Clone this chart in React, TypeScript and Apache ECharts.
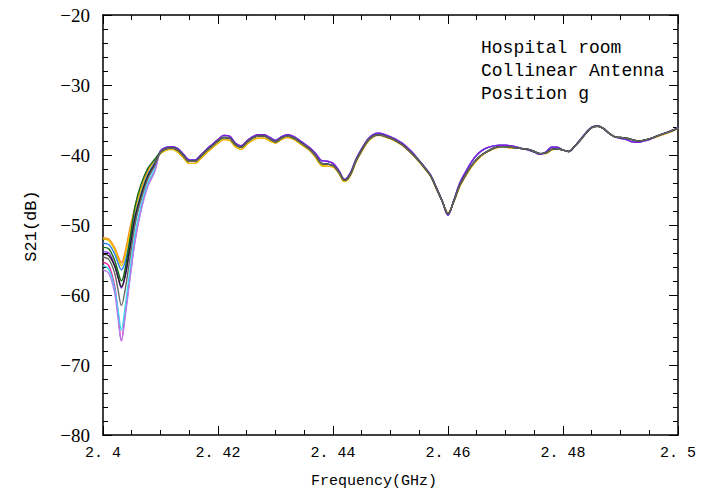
import React, { useEffect, useRef } from "react";
import * as echarts from "echarts";

// Frequencies (GHz) of the low-band head samples, where the traces differ
const headFreq = [2.4, 2.401, 2.402, 2.4026, 2.4032, 2.4038, 2.4046, 2.4056, 2.4066, 2.4078, 2.409];

// Per-trace head values (dB)
const headOrange = [-51.8, -52.0, -53.2, -54.4, -55.4, -54.0, -50.8, -47.3, -44.8, -42.2, -40.8];
const headGold = [-52.0, -52.2, -53.5, -54.8, -55.8, -54.6, -51.6, -47.8, -45.1, -42.5, -41.0];
const headBlue = [-52.6, -52.8, -54.1, -55.4, -56.4, -55.4, -52.6, -48.6, -45.6, -42.8, -41.1];
const headGreen = [-53.2, -53.4, -55.0, -56.6, -58.0, -56.5, -52.5, -47.2, -44.2, -41.9, -40.6];
const headPurple = [-53.8, -54.0, -55.7, -57.4, -59.0, -57.6, -54.0, -49.4, -46.2, -43.3, -41.5];
const headBlack = [-54.2, -54.4, -55.8, -57.4, -58.8, -57.4, -53.6, -48.8, -45.8, -43.0, -41.3];
const headGray = [-54.6, -54.9, -56.8, -59.2, -61.5, -59.5, -55.2, -49.8, -46.4, -43.4, -41.5];
const headMagenta = [-55.3, -55.8, -58.6, -62.5, -66.5, -63.0, -58.0, -52.0, -47.8, -44.2, -42.2];
const headCyan = [-55.8, -56.3, -59.0, -62.0, -65.0, -62.0, -57.0, -51.2, -47.3, -44.0, -42.0];
const headLavender = [-56.4, -56.9, -59.6, -63.2, -66.6, -63.5, -58.3, -52.2, -48.0, -44.5, -42.4];

// Tail samples: 2.410 .. 2.500 GHz, step 0.001
const tailStart = 2.41;
const tailStep = 0.001;
const tailBase = [
  -39.6, -39.1, -39.0, -39.3, -40.1, -40.9, -40.9, -40.2, -39.4, -38.7,
  -38.0, -37.5, -37.6, -38.5, -38.9, -38.2, -37.6, -37.3, -37.3, -37.7,
  -38.1, -37.6, -37.3, -37.5, -38.0, -38.6, -39.2, -40.1, -41.2, -41.3,
  -41.5, -42.4, -43.6, -42.8, -40.8, -39.3, -38.0, -37.3, -37.1, -37.3,
  -37.6, -38.0, -38.5, -39.2, -40.0, -40.9, -41.9, -43.0, -44.8, -46.6,
  -48.4, -46.6, -44.4, -42.9, -41.6, -40.6, -39.9, -39.4, -39.0, -38.8,
  -38.8, -38.9, -39.0, -39.1, -39.2, -39.5, -39.8, -39.7, -39.2, -39.1,
  -39.3, -39.5, -38.8, -37.9, -36.9, -36.1, -35.9, -36.2, -36.9, -37.4,
  -37.5, -37.6, -37.8, -38.0, -37.9, -37.7, -37.4, -37.1, -36.8, -36.5,
  -36.2,
];
const tailUpper = [
  -39.4, -38.9, -38.8, -39.1, -39.9, -40.7, -40.7, -40.0, -39.2, -38.5,
  -37.8, -37.2, -37.3, -38.3, -38.7, -38.0, -37.4, -37.1, -37.1, -37.5,
  -37.9, -37.4, -37.1, -37.3, -37.8, -38.4, -39.0, -39.8, -40.8, -40.9,
  -41.2, -42.2, -43.5, -42.6, -40.6, -39.1, -37.8, -37.1, -36.9, -37.1,
  -37.4, -37.8, -38.3, -39.0, -39.8, -40.8, -41.8, -42.9, -44.7, -46.6,
  -48.6, -46.5, -44.1, -42.5, -41.1, -40.0, -39.3, -38.9, -38.7, -38.6,
  -38.6, -38.7, -38.9, -39.1, -39.3, -39.6, -39.9, -39.6, -38.9, -38.9,
  -39.3, -39.5, -38.8, -37.8, -36.8, -36.0, -35.8, -36.2, -36.9, -37.4,
  -37.6, -37.8, -38.1, -38.2, -38.0, -37.8, -37.4, -37.1, -36.8, -36.5,
  -36.1,
];
const tailLower = [
  -39.8, -39.3, -39.2, -39.6, -40.4, -41.2, -41.2, -40.5, -39.7, -39.0,
  -38.3, -37.8, -37.9, -38.8, -39.2, -38.5, -37.9, -37.6, -37.6, -38.0,
  -38.3, -37.8, -37.5, -37.7, -38.2, -38.8, -39.4, -40.4, -41.5, -41.6,
  -41.7, -42.6, -43.8, -43.0, -41.0, -39.5, -38.2, -37.4, -37.2, -37.4,
  -37.7, -38.1, -38.6, -39.3, -40.1, -41.0, -42.0, -43.1, -44.9, -46.6,
  -48.3, -46.7, -44.6, -43.1, -41.8, -40.8, -40.0, -39.5, -39.1, -38.9,
  -38.9, -39.0, -39.0, -39.1, -39.2, -39.5, -39.8, -39.8, -39.3, -39.1,
  -39.3, -39.5, -38.8, -37.9, -36.9, -36.1, -35.9, -36.2, -36.9, -37.4,
  -37.5, -37.6, -37.8, -38.0, -37.9, -37.7, -37.5, -37.2, -36.9, -36.6,
  -36.2,
];

const annotationLines = ["Hospital room", "Collinear Antenna", "Position g"];
const xLabel = "Frequency(GHz)";
const yLabel = "S21(dB)";

type Trace = { name: string; color: string; head: number[]; tail: number[] };
const traces: Trace[] = [
  { name: "t1", color: "#ff8c1a", head: headOrange, tail: tailLower },
  { name: "t2", color: "#e6c000", head: headGold, tail: tailLower },
  { name: "t3", color: "#2a7fff", head: headBlue, tail: tailBase },
  { name: "t4", color: "#ff1a9c", head: headMagenta, tail: tailUpper },
  { name: "t5", color: "#33ddee", head: headCyan, tail: tailUpper },
  { name: "t6", color: "#b07ff0", head: headLavender, tail: tailUpper },
  { name: "t7", color: "#7a1fe0", head: headPurple, tail: tailUpper },
  { name: "t8", color: "#0e6b1a", head: headGreen, tail: tailBase },
  { name: "t9", color: "#222222", head: headBlack, tail: tailBase },
  { name: "t10", color: "#666666", head: headGray, tail: tailBase },
];

const MONO = "'Liberation Mono', 'DejaVu Sans Mono', monospace";
const SERIF = "'Liberation Serif', 'DejaVu Serif', serif";

function frameAxis(position: string, isX: boolean, labelStyle: any) {
  return {
    type: "value",
    position,
    min: isX ? 2.4 : -80,
    max: isX ? 2.5 : -20,
    interval: isX ? 0.02 : 10,
    axisLine: { show: true, onZero: false, lineStyle: { color: "#000000", width: 1.5 } },
    axisTick: { show: true, inside: true, length: 9, lineStyle: { color: "#000000", width: 1 } },
    minorTick: { show: true, splitNumber: isX ? 4 : 5, length: 5, lineStyle: { color: "#000000", width: 1 } },
    axisLabel: labelStyle,
    splitLine: { show: false },
  };
}

export default function App() {
  const ref = useRef<HTMLDivElement>(null);
  useEffect(() => {
    if (!ref.current) return;
    const chart = echarts.init(ref.current, undefined, { renderer: "svg" });
    const series = traces.map((t) => {
      const data: number[][] = headFreq.map((f, i) => [f, t.head[i]]);
      t.tail.forEach((v, i) => data.push([Math.round((tailStart + i * tailStep) * 10000) / 10000, v]));
      return {
        name: t.name,
        type: "line",
        data,
        smooth: 0.35,
        showSymbol: false,
        symbol: "none",
        lineStyle: { color: t.color, width: 1.4 },
      };
    });
    const hiddenLabel = { show: true, formatter: () => "" };
    const bottomLabel = {
      show: true,
      margin: 11,
      fontFamily: MONO,
      fontSize: 15,
      color: "#000",
      formatter: (v: number) => {
        let s = v.toFixed(2);
        if (s.endsWith("0")) s = s.slice(0, -1);
        return s.replace(".", ". ");
      },
    };
    const leftLabel = {
      show: true,
      margin: 13,
      fontFamily: SERIF,
      fontSize: 19,
      color: "#000",
      formatter: (v: number) => String(v).replace("-", "\u2212"),
    };
    chart.setOption({
      animation: false,
      title: {
        text: annotationLines.join("\n"),
        left: 481,
        top: 36,
        padding: 0,
        textStyle: { fontFamily: MONO, fontSize: 18, fontWeight: "normal", lineHeight: 23, color: "#000" },
      },
      grid: { left: 103, right: 34, top: 15, bottom: 61 },
      xAxis: [frameAxis("bottom", true, bottomLabel), frameAxis("top", true, hiddenLabel)],
      yAxis: [frameAxis("left", false, leftLabel), frameAxis("right", false, hiddenLabel)],
      graphic: [
        {
          type: "text",
          x: 374,
          y: 474,
          style: {
            text: xLabel,
            fontFamily: MONO,
            fontSize: 15,
            fill: "#000",
            textAlign: "center",
            textVerticalAlign: "top",
          },
        },
        {
          type: "text",
          x: 31,
          y: 226,
          rotation: Math.PI / 2,
          style: {
            text: yLabel,
            fontFamily: MONO,
            fontSize: 17,
            fill: "#000",
            textAlign: "center",
            textVerticalAlign: "middle",
          },
        },
      ],
      series,
    });
    return () => chart.dispose();
  }, []);
  return <div ref={ref} style={{ position: "absolute", left: 0, top: 0, width: 712, height: 496 }} />;
}
